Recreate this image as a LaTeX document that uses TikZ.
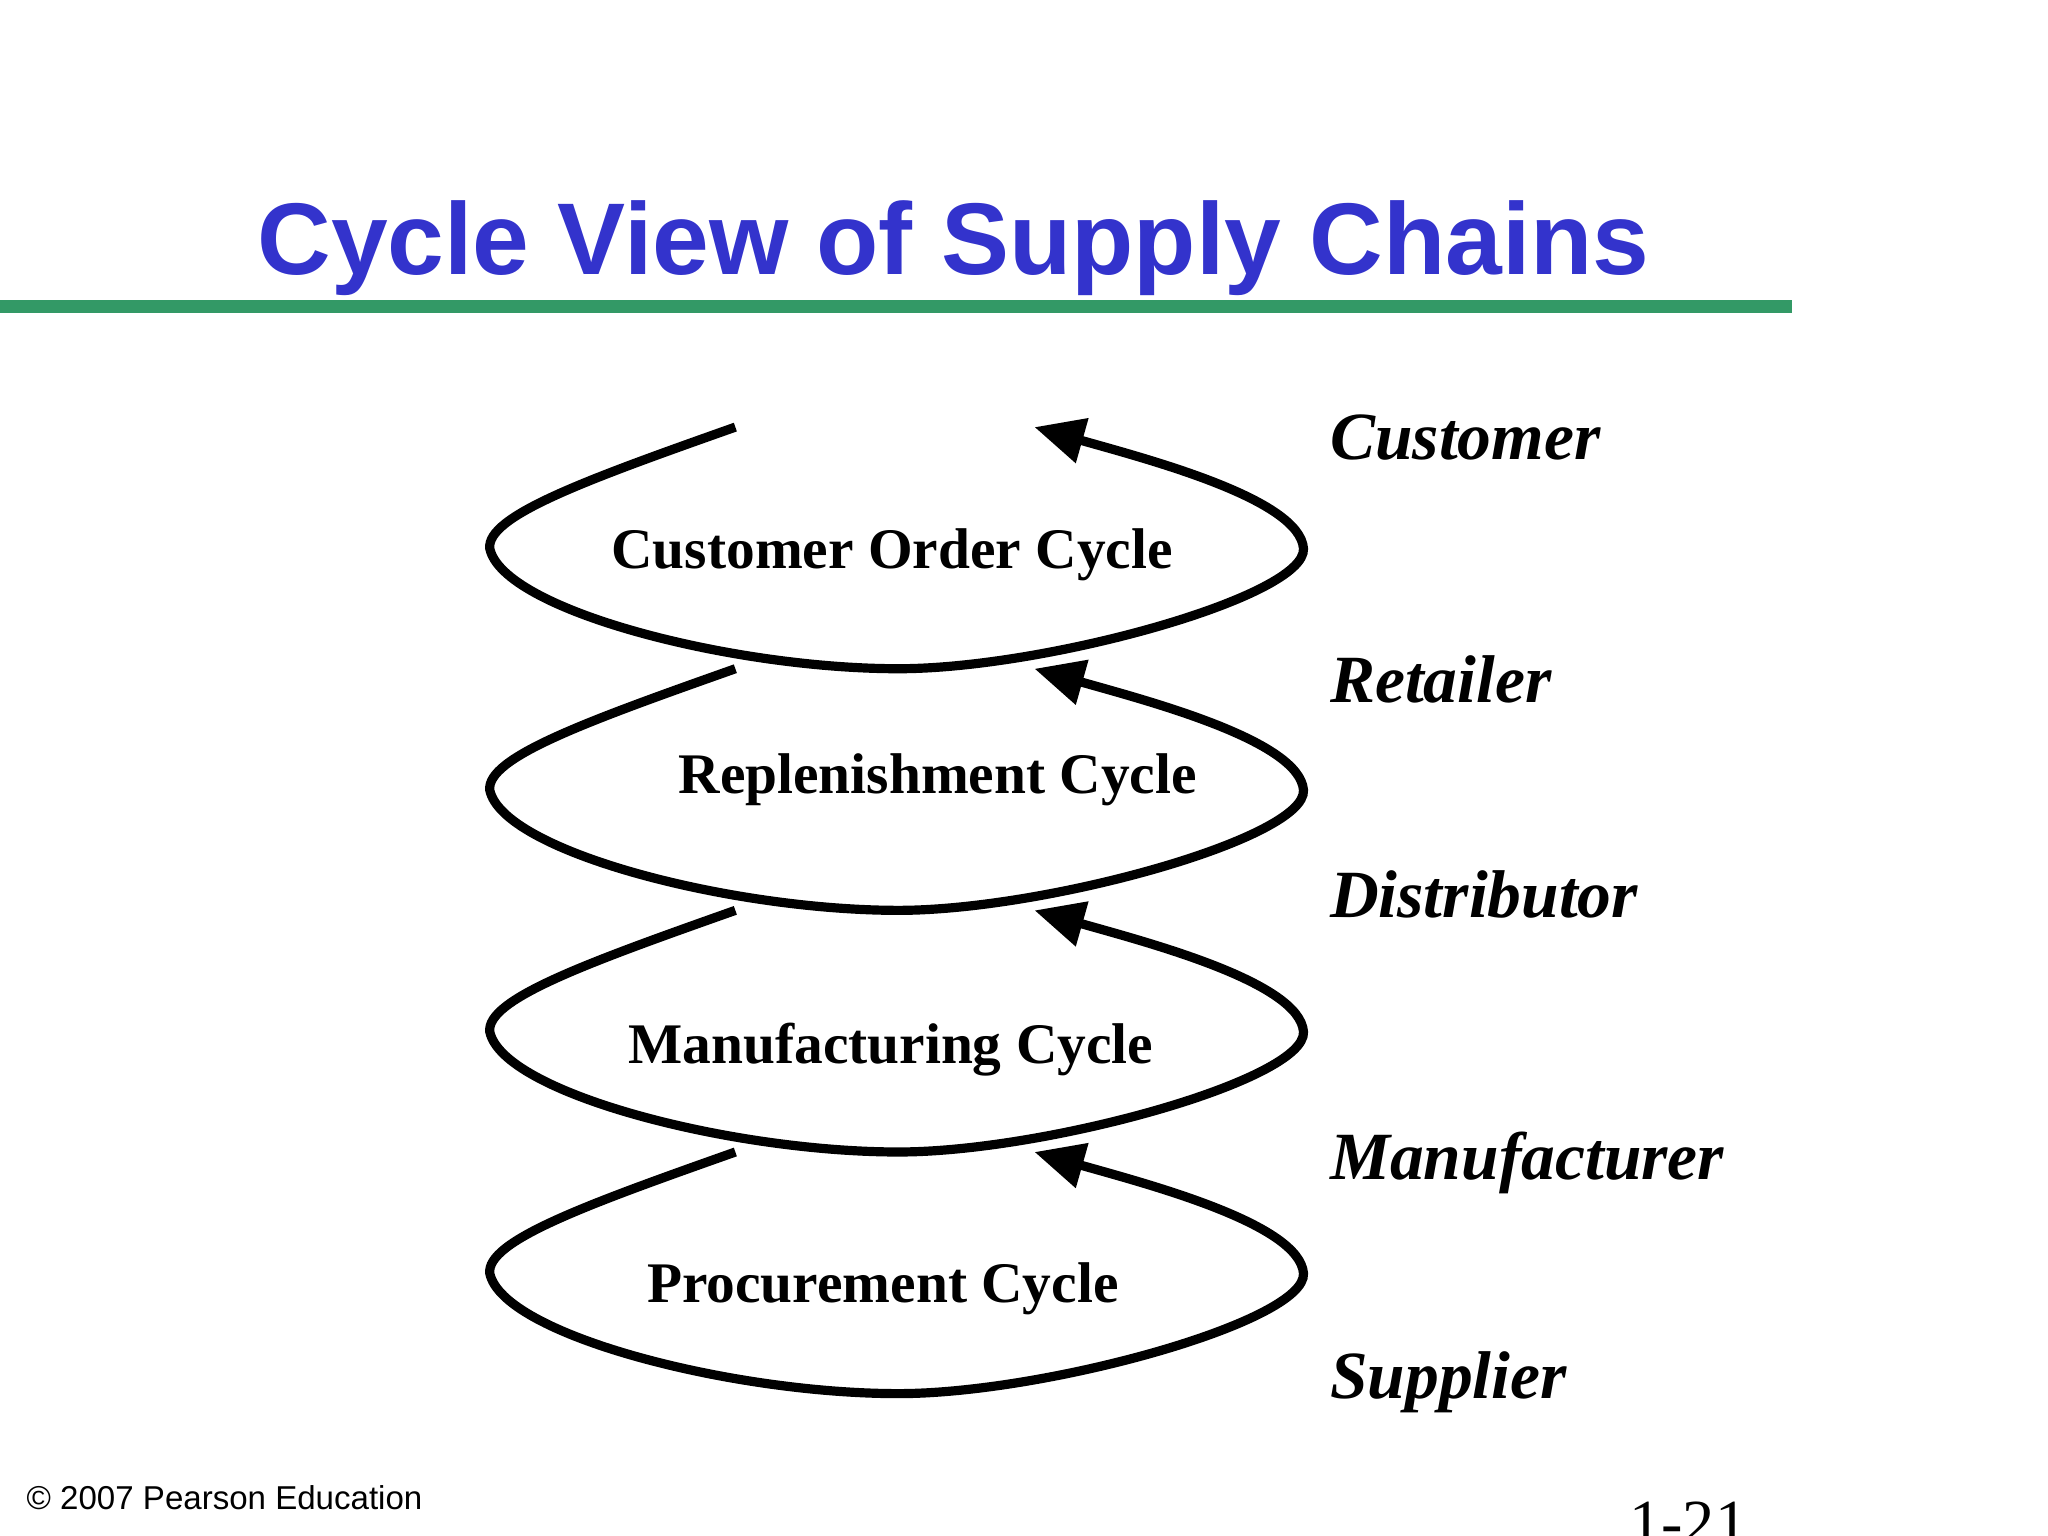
\documentclass[tikz,border=0pt]{standalone}
\usepackage{fontspec}
\setmainfont{Liberation Serif}
\setsansfont{Liberation Sans}
\usetikzlibrary{arrows.meta}
\definecolor{titleblue}{HTML}{3333CC}
\definecolor{linegreen}{HTML}{339966}
\tikzset{
 loop/.style={line width=2pt,-{Triangle[length=0.38cm,width=0.34cm]}},
 cyc/.style={font=\bfseries\fontsize{12.5}{14}\selectfont},
 role/.style={anchor=west,font=\bfseries\itshape\fontsize{14.7}{18}\selectfont}
}
\begin{document}
\begin{tikzpicture}[x=0.01cm,y=-0.01cm]
\useasboundingbox (0,0) rectangle (1568,1176);
\node[font=\sffamily\bfseries\fontsize{22.2}{27}\selectfont,text=titleblue] (title) at (730,190) {Cycle View of Supply Chains};
\fill[linegreen] (0,230) rectangle (1372,240);
\foreach \y in {327,512,697,882}{
 \draw[loop] (563,\y) .. controls (450,\y+40) and (372,\y+68) .. (375,\y+93)
   .. controls (385,\y+140) and (560,\y+185) .. (688,\y+185)
   .. controls (800,\y+185) and (1000,\y+130) .. (998,\y+93)
   .. controls (995,\y+55) and (880,\y+25) .. (792,\y);
}
\node[cyc] (c1) at (683,425) {Customer Order Cycle};
\node[cyc] (c2) at (718,597) {Replenishment Cycle};
\node[cyc] (c3) at (682,804) {Manufacturing Cycle};
\node[cyc] (c4) at (676,987) {Procurement Cycle};
\node[role] (r1) at (1006,335) {Customer};
\node[role] (r2) at (1006,520) {Retailer};
\node[role] (r3) at (1006,685) {Distributor};
\node[role] (r4) at (1006,890) {Manufacturer};
\node[role] (r5) at (1006,1058) {Supplier};
\node[anchor=west,font=\sffamily\fontsize{7.2}{9}\selectfont] (cp) at (8,1147) {© 2007 Pearson Education};
\node[anchor=west,font=\fontsize{14}{16}\selectfont] (pg) at (1235,1166) {1-21};
\end{tikzpicture}
\end{document}
